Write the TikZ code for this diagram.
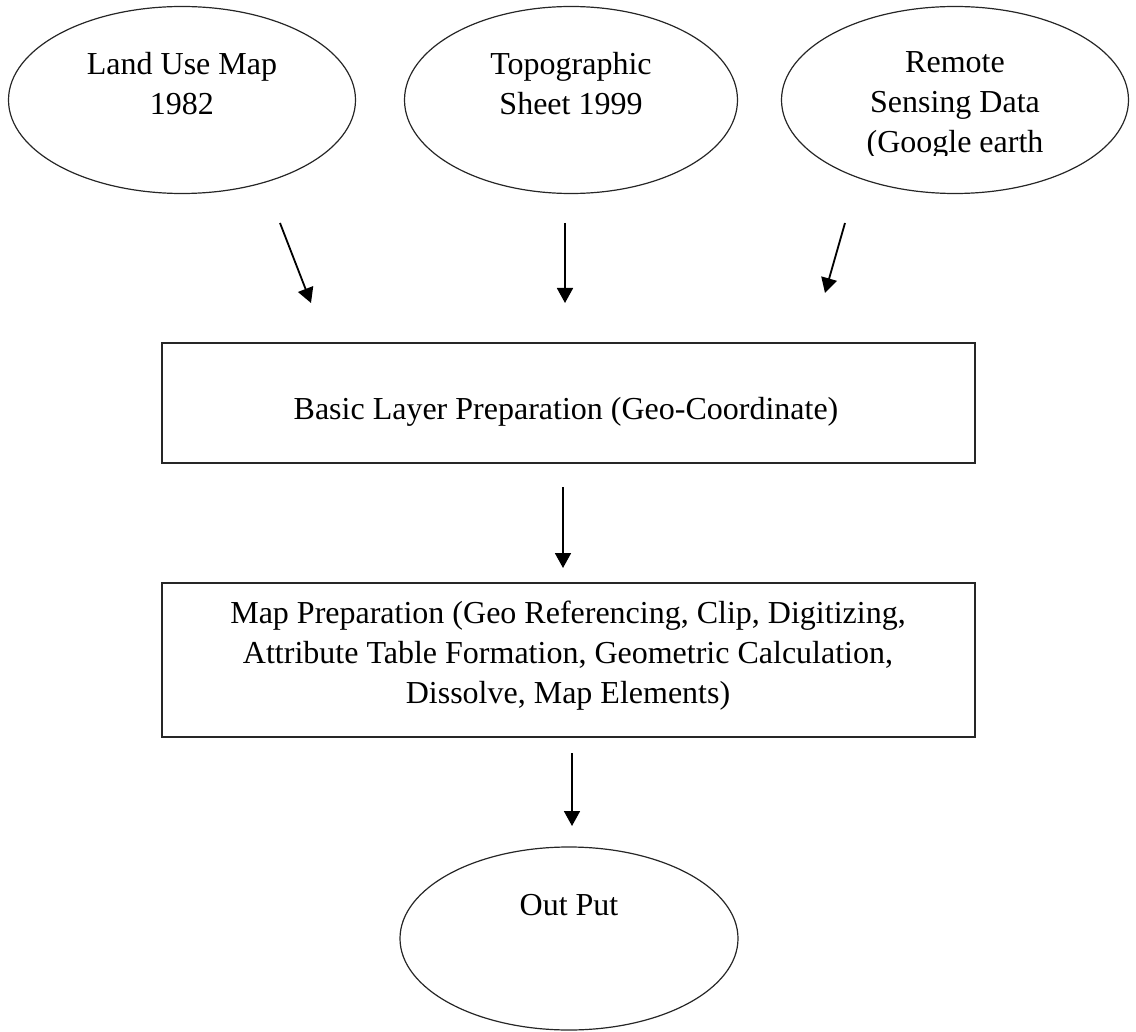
\documentclass[tikz,border=0pt]{standalone}
\usepackage{fontspec}
\setmainfont{Liberation Serif}
\usetikzlibrary{shapes.geometric,positioning,arrows.meta}

\tikzset{
  srcshape/.style={draw=black!85, line width=.6pt, ellipse, minimum height=93.5pt, outer sep=0pt, inner sep=0pt},
  boxshape/.style={draw=black!85, line width=1pt, rectangle, minimum width=406.5pt, outer sep=0pt, inner sep=0pt},
  flowtext/.style={align=center, inner sep=0pt, font=\fontsize{16}{20}\selectfont},
  flowarrow/.style={line width=.9pt, -{Triangle[length=7.5pt,width=8pt]}}
}

\begin{document}
\begin{tikzpicture}[x=.5pt,y=-.5pt]
\useasboundingbox (0,0) rectangle (1136,1032);
%input data sources
\node[srcshape, minimum width=173.5pt] (landmap) at (182,100) {};
\node[flowtext, below=22.5pt of landmap.north] (landmaptxt) {Land Use Map\\1982};
\node[srcshape, minimum width=166.5pt] (toposheet) at (571,100) {};
\node[flowtext, below=22.5pt of toposheet.north] (toposheettxt) {Topographic\\Sheet 1999};
\node[srcshape, minimum width=173.5pt] (rsdata) at (955,100) {};
%text box cuts off the last line
\begin{scope}
\clip (780,40) rectangle (1130,156);
\node[flowtext, below=22.5pt of rsdata.north] (rsdatatxt) {Remote\\Sensing Data\\(Google earth};
\end{scope}
%arrows into the first box
\coordinate (landarrowtop) at (280,223); \coordinate (landarrowtip) at (311,303);
\coordinate (topoarrowtop) at (565,223); \coordinate (topoarrowtip) at (565,303);
\coordinate (rsarrowtop) at (845,223); \coordinate (rsarrowtip) at (825,293);
\draw[flowarrow] (landarrowtop) -- (landarrowtip);
\draw[flowarrow] (topoarrowtop) -- (topoarrowtip);
\draw[flowarrow] (rsarrowtop) -- (rsarrowtip);
%basic layer
\node[boxshape, minimum height=60pt] (basiclayer) at (568.5,403) {};
\node[flowtext, anchor=base] (basiclayertxt) at (566,420) {Basic Layer Preparation (Geo-Coordinate)};
\coordinate (layerarrowtop) at (563,487); \coordinate (layerarrowtip) at (563,568);
\draw[flowarrow] (layerarrowtop) -- (layerarrowtip);
%map preparation
\node[boxshape, minimum height=77pt] (mapprep) at (568.5,660) {};
\node[flowtext, anchor=north] (mappreptxt) at (568,601) {Map Preparation (Geo Referencing, Clip, Digitizing,\\Attribute Table Formation, Geometric Calculation,\\Dissolve, Map Elements)};
\coordinate (outarrowtop) at (572,753); \coordinate (outarrowtip) at (572,826);
\draw[flowarrow] (outarrowtop) -- (outarrowtip);
%result
\node[srcshape, minimum width=169pt, minimum height=91.5pt] (output) at (569,938.5) {};
\node[flowtext, below=23.5pt of output.north] (outputtxt) {Out Put};
\end{tikzpicture}
\end{document}
